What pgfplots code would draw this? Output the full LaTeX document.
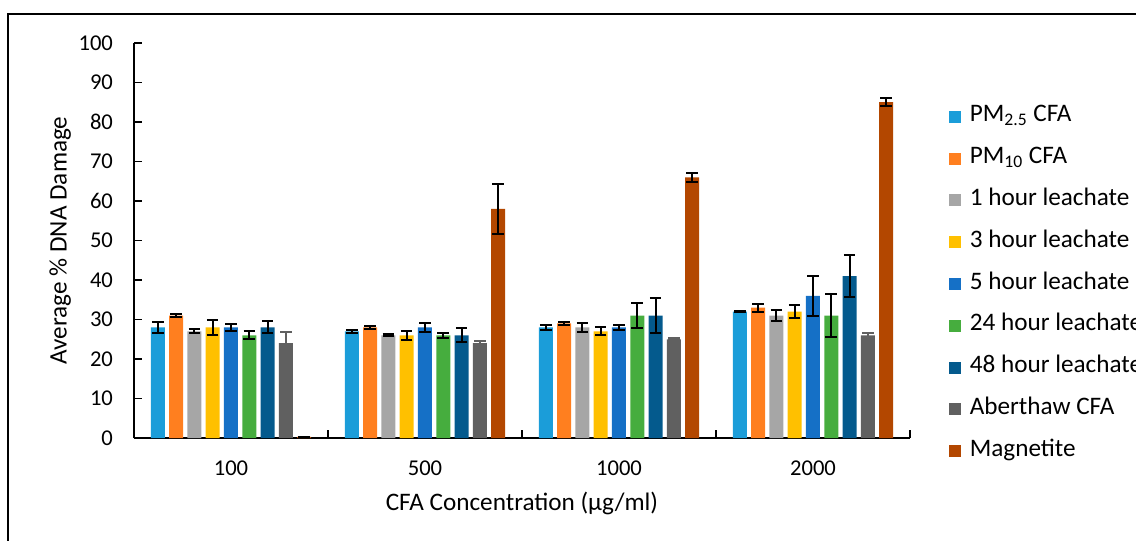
\documentclass[border=0pt]{standalone}
\usepackage{fontspec}
\setmainfont{Carlito}
\usepackage{pgfplots}
\pgfplotsset{compat=1.18}

\definecolor{cpmtwo}{HTML}{1B9DD9}
\definecolor{cpmten}{HTML}{FF7F1F}
\definecolor{cone}{HTML}{A6A6A6}
\definecolor{cthree}{HTML}{FFC000}
\definecolor{cfive}{HTML}{1570C6}
\definecolor{ctwentyfour}{HTML}{46AD3E}
\definecolor{cfortyeight}{HTML}{045A8D}
\definecolor{caber}{HTML}{606060}
\definecolor{cmag}{HTML}{B34700}

\pgfplotsset{
  errb/.style={draw=none, fill=#1,
    error bars/y dir=both, error bars/y explicit,
    error bars/error bar style={line width=1pt, black},
    error bars/error mark options={rotate=90, mark size=2.9pt, line width=1pt, black}},
}

\begin{document}
\begin{tikzpicture}[x=1pt,y=1pt]
\useasboundingbox (0,0) rectangle (568,270.5);
\draw[line width=1pt] (4,263.5) rectangle (640,-30);
\begin{axis}[
    at={(67pt,51.5pt)}, anchor=south west,
    width=388pt, height=197.5pt, scale only axis,
    font=\fontsize{12.6}{15}\selectfont,
    ticklabel style={font=\fontsize{11.3}{13.5}\selectfont},
    /pgf/number format/assume math mode=true,
    ybar, bar width=7pt, ybar=2.15pt,
    xmin=-0.5, xmax=3.5, ymin=0, ymax=100,
    xtick={0,1,2,3}, xticklabels={100,500,1000,2000},
    minor xtick={-0.5,0.5,1.5,2.5,3.5},
    ytick={0,10,...,100},
    axis lines*=left,
    axis line style={line width=0.75pt},
    tick align=inside,
    major x tick style={draw=none},
    minor tick length=4pt, major tick length=4pt,
    every tick/.style={line width=0.75pt, black},
    yticklabel style={xshift=-7pt},
    xticklabel style={yshift=-8pt},
    ylabel={Average \% DNA Damage},
    ylabel style={at={(axis description cs:-0.095,0.5)}, anchor=center},
    xlabel={CFA Concentration (μg/ml)},
    xlabel style={at={(axis description cs:0.5,-0.165)}, anchor=center},
    legend style={at={(axis description cs:1.0495,0.842)}, anchor=north west,
        draw=none, fill=none, inner sep=0pt, row sep=9.9pt,
        nodes={text height=7pt, text depth=2pt, inner sep=1pt},
        /tikz/every odd column/.append style={column sep=3.5pt}},
    legend cell align=left,
    legend image code/.code={\fill[#1] (0pt,-3pt) rectangle (6pt,3pt);},
]
\addplot[errb=cpmtwo] coordinates {
    (0,28) +- (0,1.4) (1,27) +- (0,0.3) (2,28) +- (0,0.6) (3,32) +- (0,0.2)};
\addlegendentry{PM\textsubscript{2.5} CFA}
\addplot[errb=cpmten] coordinates {
    (0,31) +- (0,0.3) (1,28) +- (0,0.4) (2,29) +- (0,0.3) (3,33) +- (0,1.0)};
\addlegendentry{PM\textsubscript{10} CFA}
\addplot[errb=cone] coordinates {
    (0,27) +- (0,0.5) (1,26) +- (0,0.3) (2,28) +- (0,1.1) (3,31) +- (0,1.5)};
\addlegendentry{1 hour leachate}
\addplot[errb=cthree] coordinates {
    (0,28) +- (0,1.8) (1,26) +- (0,1.1) (2,27) +- (0,1.0) (3,32) +- (0,1.6)};
\addlegendentry{3 hour leachate}
\addplot[errb=cfive] coordinates {
    (0,28) +- (0,0.9) (1,28) +- (0,1.2) (2,28) +- (0,0.6) (3,36) +- (0,5.1)};
\addlegendentry{5 hour leachate}
\addplot[errb=ctwentyfour] coordinates {
    (0,26) +- (0,1.0) (1,26) +- (0,0.6) (2,31) +- (0,3.2) (3,31) +- (0,5.4)};
\addlegendentry{24 hour leachate}
\addplot[errb=cfortyeight] coordinates {
    (0,28) +- (0,1.5) (1,26) +- (0,1.8) (2,31) +- (0,4.5) (3,41) +- (0,5.3)};
\addlegendentry{48 hour leachate}
\addplot[errb=caber,
    error bars/error bar style={line width=1pt, caber},
    error bars/error mark options={rotate=90, mark size=2.9pt, line width=1pt, caber}] coordinates {
    (0,24) +- (0,2.8) (1,24) +- (0,0.5) (2,25) +- (0,0.3) (3,26) +- (0,0.6)};
\addlegendentry{Aberthaw CFA}
\addplot[errb=cmag] coordinates {
    (0,0.3) +- (0,0) (1,58) +- (0,6.3) (2,66) +- (0,1.2) (3,85) +- (0,1.0)};
\addlegendentry{Magnetite}
\end{axis}
\end{tikzpicture}
\end{document}
